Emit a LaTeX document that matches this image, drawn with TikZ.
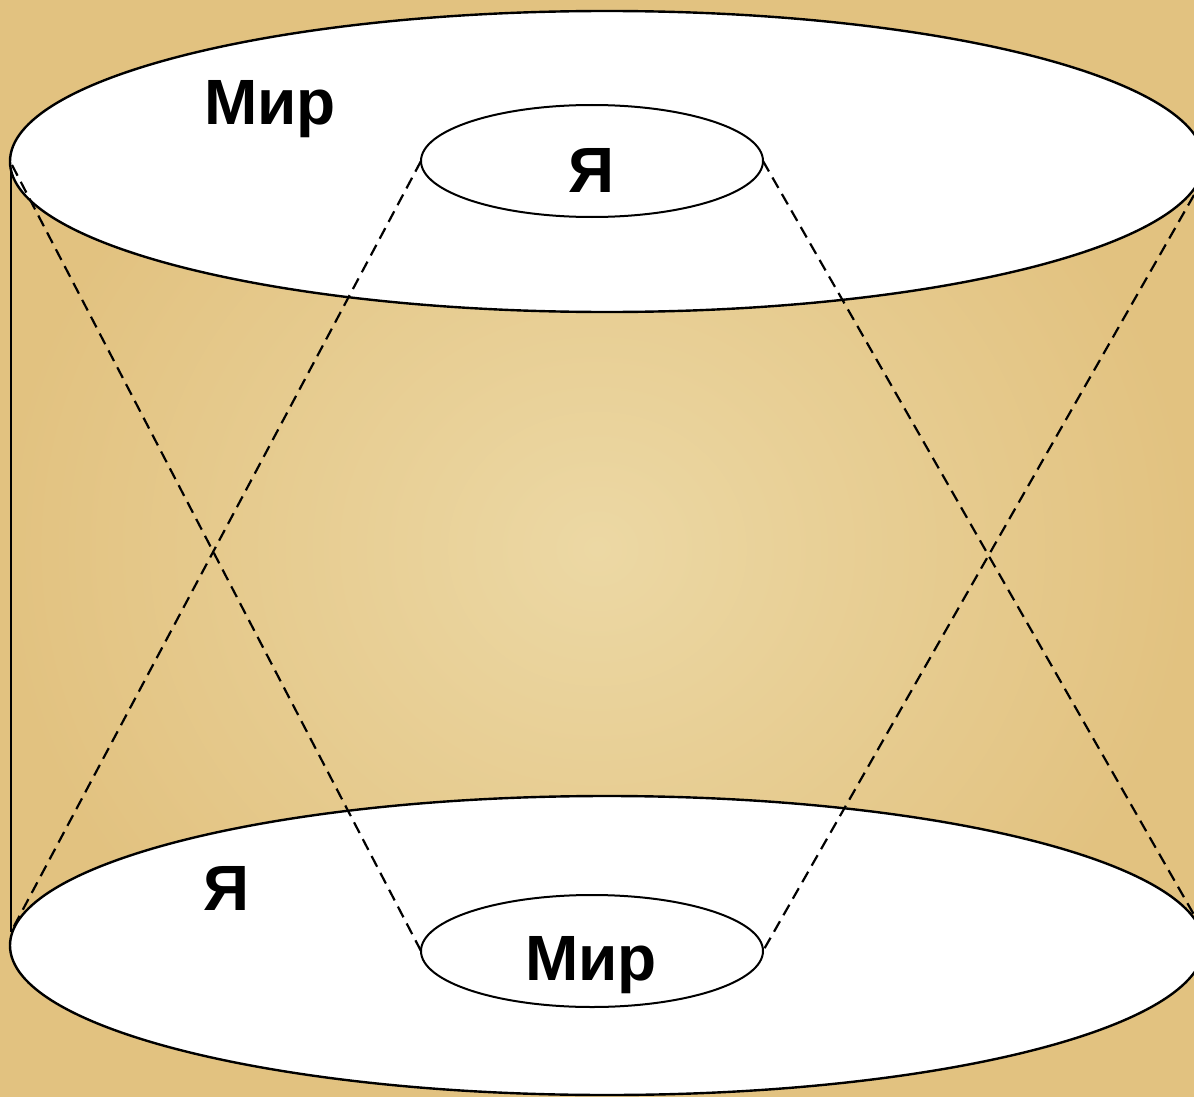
\documentclass[tikz,border=0pt]{standalone}
\usepackage{fontspec}
\setmainfont{Liberation Sans}
\usetikzlibrary{shapes.geometric}
\begin{document}
\begin{tikzpicture}[x=1pt,y=-1pt,
  rim/.style={ellipse, draw=black, fill=white, line width=2.4pt, inner sep=0pt, outer sep=0pt},
  innerring/.style={ellipse, draw=black, fill=white, line width=2pt, inner sep=0pt, outer sep=0pt},
  guide/.style={draw=black, line width=2.2pt, dash pattern=on 12pt off 7pt},
  lbl/.style={font=\bfseries\fontsize{64}{64}\selectfont, anchor=base, inner sep=0pt}]
\useasboundingbox (0,0) rectangle (1194,1097);
\fill[inner color={rgb,255:red,236;green,216;blue,164}, outer color={rgb,255:red,226;green,194;blue,128}] (0,0) rectangle (1194,1097);
\coordinate (vtop) at (11,155);
\coordinate (vbot) at (11,932);
\draw[line width=1.8pt] (vtop) -- (vbot);
\node[rim, minimum width=1194pt, minimum height=301pt] (topO) at (607,161.5) {};
\node[rim, minimum width=1194pt, minimum height=299pt] (botO) at (607,945.5) {};
\node[innerring, minimum width=342pt, minimum height=112pt] (topI) at (592,161) {};
\node[innerring, minimum width=342pt, minimum height=112pt] (botI) at (592,951) {};
\coordinate (a1) at (12,165);
\coordinate (a2) at (12,930);
\coordinate (b1) at (1197,920);
\coordinate (b2) at (1194,195);
\draw[guide] (a1) -- (botI.west);
\draw[guide] (topI.west) -- (a2);
\draw[guide] (topI.east) -- (b1);
\draw[guide] (b2) -- (botI.east);
\node[lbl] (t1) at (270,125) {Мир};
\node[lbl] (t2) at (591,192) {Я};
\node[lbl] (t3) at (226,910) {Я};
\node[lbl] (t4) at (591,980) {Мир};
\end{tikzpicture}
\end{document}
